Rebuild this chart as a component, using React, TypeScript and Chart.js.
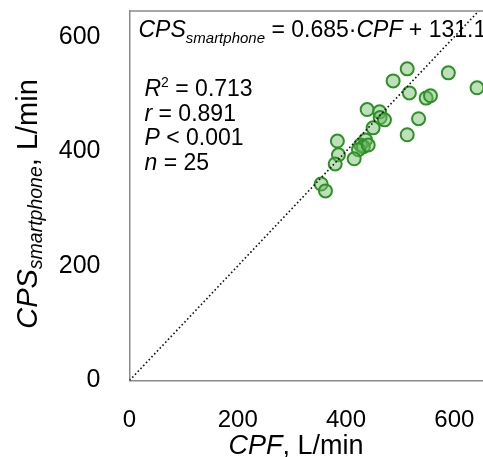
import { useEffect, useRef } from 'react';
import { Chart, registerables } from 'chart.js';
Chart.register(...registerables);

const cpf = [513, 487, 589, 642, 517, 548, 556, 534, 513, 439, 462, 463, 471, 450, 436, 427, 432, 423, 384, 386, 415, 380, 354, 362, 441];
const cpsSmartphone = [544, 523, 537, 511, 502, 493, 497, 457, 429, 473, 469, 459, 455, 441, 420, 411, 408, 403, 418, 394, 387, 378, 343, 331, 411];
const xTicks = [0, 200, 400, 600];
const yTicks = [0, 200, 400, 600];
const identityLine = [0, 700];
const xRange = [0, 653];
const yRange = [0, 645];
const equationText = ['CPS', 'smartphone', ' = 0.685·', 'CPF', ' + 131.1'];
const statLines = [
  [['R', 'i'], ['2', 'sup'], [' = 0.713', 'n']],
  [['r', 'i'], [' = 0.891', 'n']],
  [['P', 'i'], [' < 0.001', 'n']],
  [['n', 'i'], [' = 25', 'n']],
];

const FAM = '"Liberation Sans", Arial, sans-serif';

type Run = { text: string; font: string; dy: number };

function runsWidth(ctx: CanvasRenderingContext2D, runs: Run[]) {
  let w = 0;
  for (const r of runs) { ctx.font = r.font; w += ctx.measureText(r.text).width; }
  return w;
}
function drawRuns(ctx: CanvasRenderingContext2D, runs: Run[], x: number, y: number) {
  let cx = x;
  for (const r of runs) {
    ctx.font = r.font;
    ctx.fillText(r.text, cx, y + r.dy);
    cx += ctx.measureText(r.text).width;
  }
}

const textPlugin = {
  id: 'textPlugin',
  afterDraw(chart: any) {
    const ctx: CanvasRenderingContext2D = chart.ctx;
    const a = chart.chartArea;
    ctx.save();
    // top frame line
    ctx.strokeStyle = '#8a8a8a';
    ctx.lineWidth = 1.5;
    ctx.beginPath();
    ctx.moveTo(a.left, a.top);
    ctx.lineTo(a.right + 2, a.top);
    ctx.stroke();

    ctx.fillStyle = '#000';
    ctx.textBaseline = 'alphabetic';
    ctx.textAlign = 'left';

    // equation
    const eqMain = 23, eqSub = 15;
    drawRuns(ctx, [
      { text: equationText[0], font: `italic ${eqMain}px ${FAM}`, dy: 0 },
      { text: equationText[1], font: `italic ${eqSub}px ${FAM}`, dy: 6 },
      { text: equationText[2], font: `${eqMain}px ${FAM}`, dy: 0 },
      { text: equationText[3], font: `italic ${eqMain}px ${FAM}`, dy: 0 },
      { text: equationText[4], font: `${eqMain}px ${FAM}`, dy: 0 },
    ], a.left + 9, a.top + 26);

    // stats
    const st = 23;
    statLines.forEach((line, i) => {
      const runs: Run[] = line.map(([t, k]) => ({
        text: t,
        font: k === 'i' ? `italic ${st}px ${FAM}` : k === 'sup' ? `${Math.round(st * 0.62)}px ${FAM}` : `${st}px ${FAM}`,
        dy: k === 'sup' ? -9 : 0,
      }));
      drawRuns(ctx, runs, a.left + 15, a.top + 85 + i * 24.7);
    });

    // x title
    const xt = 27;
    const xRuns: Run[] = [
      { text: 'CPF', font: `italic ${xt}px ${FAM}`, dy: 0 },
      { text: ', L/min', font: `${xt}px ${FAM}`, dy: 0 },
    ];
    const xw = runsWidth(ctx, xRuns);
    drawRuns(ctx, xRuns, 296 - xw / 2, 454);

    // y title
    const yt = 29, ys = 19.5;
    const yRuns: Run[] = [
      { text: 'CPS', font: `italic ${yt}px ${FAM}`, dy: 0 },
      { text: 'smartphone', font: `italic ${ys}px ${FAM}`, dy: 5 },
      { text: ', L/min', font: `${yt}px ${FAM}`, dy: 0 },
    ];
    const yw = runsWidth(ctx, yRuns);
    ctx.translate(37, 204);
    ctx.rotate(-Math.PI / 2);
    drawRuns(ctx, yRuns, -yw / 2, 0);
    ctx.restore();
  },
};

function zeroPad(s: any) {
  s.paddingTop = 0;
  s.paddingBottom = 0;
  s.paddingLeft = 0;
  s.paddingRight = 0;
}

export default function App() {
  const ref = useRef<HTMLCanvasElement | null>(null);
  useEffect(() => {
    if (!ref.current) return;
    const points = cpf.map((x, i) => ({ x, y: cpsSmartphone[i] }));
    const chart = new Chart(ref.current, {
      type: 'scatter',
      data: {
        datasets: [
          {
            type: 'line',
            data: identityLine.map((v) => ({ x: v, y: v })),
            borderColor: '#111',
            borderWidth: 1.6,
            borderDash: [1.6, 2.4],
            pointRadius: 0,
            fill: false,
            order: 0,
          } as any,
          {
            data: points,
            backgroundColor: 'rgba(110,185,100,0.45)',
            borderColor: 'rgb(45,145,40)',
            borderWidth: 2,
            pointRadius: 6.5,
            order: 1,
          },
        ],
      },
      options: {
        animation: false,
        responsive: false,
        maintainAspectRatio: false,
        layout: { autoPadding: false, padding: { top: 11, left: 0, right: 0, bottom: 0 } },
        plugins: { legend: { display: false }, tooltip: { enabled: false } },
        scales: {
          x: {
            type: 'linear',
            min: xRange[0],
            max: xRange[1],
            grid: { display: false, drawTicks: false },
            border: { display: true, color: '#8a8a8a', width: 1.5 },
            ticks: { color: '#000', font: { size: 24, family: FAM }, padding: 25, includeBounds: false },
            afterBuildTicks: (s: any) => { s.ticks = xTicks.map((v) => ({ value: v })); },
            afterFit: (s: any) => { s.height = 76.5; zeroPad(s); },
          },
          y: {
            type: 'linear',
            min: yRange[0],
            max: yRange[1],
            grid: { display: false, drawTicks: false },
            border: { display: true, color: '#8a8a8a', width: 1.5 },
            ticks: { color: '#000', font: { size: 25, family: FAM }, padding: 29, includeBounds: false },
            afterBuildTicks: (s: any) => { s.ticks = yTicks.map((v) => ({ value: v })); },
            afterFit: (s: any) => { s.width = 129.5; zeroPad(s); },
          },
        },
      },
      plugins: [textPlugin],
    });
    return () => chart.destroy();
  }, []);
  return (
    <div style={{ position: 'fixed', left: 0, top: 0, width: 483, height: 457, overflow: 'hidden', background: '#fff' }}>
      <canvas ref={ref} width={483} height={457} style={{ width: 483, height: 457, display: 'block' }} />
    </div>
  );
}
